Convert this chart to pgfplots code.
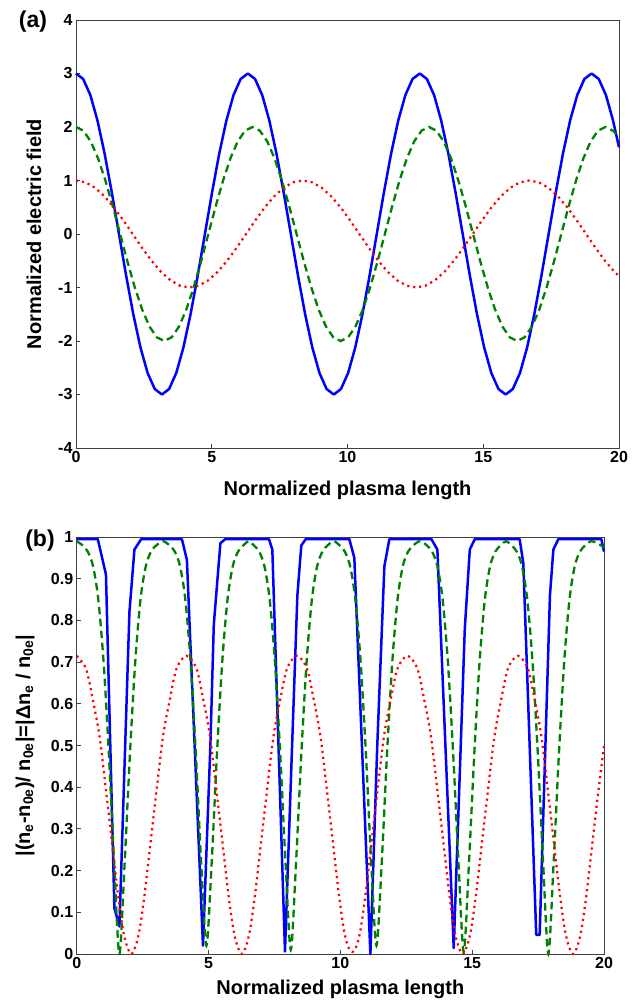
\documentclass[border=0pt]{standalone}
\usepackage{pgfplots}
\pgfplotsset{compat=1.18}
\usepackage{fontspec}
\setmainfont{Liberation Sans}
\definecolor{mblue}{RGB}{0,0,255}
\definecolor{mgreen}{RGB}{0,128,0}
\definecolor{mred}{RGB}{255,0,0}
\begin{document}
\begin{tikzpicture}[x=1pt,y=1pt]
\useasboundingbox (0,0) rectangle (637,1002);
\pgfplotsset{
  myax/.style={
    anchor=south west, scale only axis,
    xmin=0, xmax=20, xtick={0,5,10,15,20},
    tick align=inside, xtick pos=bottom, ytick pos=left,
    major tick length=4pt,
    axis line style={black!75, line width=0.8pt},
    every tick/.style={black!75, line width=0.8pt},
    tick label style={font=\bfseries\fontsize{16}{16}\selectfont},
    label style={font=\bfseries\fontsize{20}{22}\selectfont},
    /pgf/number format/assume math mode=true,
    clip=false,
  },
  bl/.style={mblue, line width=2.5pt, line join=round},
  gr/.style={mgreen, line width=2.3pt, dash pattern=on 7.5pt off 4.5pt},
  rd/.style={mred, line width=2.2pt, dash pattern=on 2.2pt off 3.8pt},
}
% ---------------- (a) ----------------
\begin{axis}[myax,
  at={(76pt,554pt)}, width=543pt, height=428pt,
  ymin=-4, ymax=4, ytick={-4,-3,-2,-1,0,1,2,3,4},
  xlabel={Normalized plasma length},
  ylabel={Normalized electric field},
  x label style={at={(axis description cs:0.5,-0.098)}, anchor=center},
  y label style={at={(axis description cs:-0.0773,0.5)}, anchor=center, rotate=0},
]
\addplot[bl] coordinates {
(0,3) (0.264,2.898) (0.528,2.598) (0.791,2.121) (1.055,1.5) (1.319,0.776) (1.583,0) (1.846,-0.776) (2.11,-1.5) (2.374,-2.121) (2.638,-2.598) (2.901,-2.898) (3.165,-3) (3.429,-2.898) (3.693,-2.598) (3.956,-2.121) (4.22,-1.5) (4.484,-0.776) (4.748,0) (5.011,0.776) (5.275,1.5) (5.539,2.121) (5.803,2.598) (6.066,2.898)
(6.33,3) (6.594,2.898) (6.858,2.598) (7.121,2.121) (7.385,1.5) (7.649,0.776) (7.913,0) (8.176,-0.776) (8.44,-1.5) (8.704,-2.121) (8.968,-2.598) (9.231,-2.898) (9.495,-3) (9.759,-2.898) (10.023,-2.598) (10.286,-2.121) (10.55,-1.5) (10.814,-0.776) (11.078,0) (11.341,0.776) (11.605,1.5) (11.869,2.121) (12.133,2.598) (12.396,2.898)
(12.66,3) (12.924,2.898) (13.188,2.598) (13.451,2.121) (13.715,1.5) (13.979,0.776) (14.243,0) (14.506,-0.776) (14.77,-1.5) (15.034,-2.121) (15.298,-2.598) (15.561,-2.898) (15.825,-3) (16.089,-2.898) (16.353,-2.598) (16.616,-2.121) (16.88,-1.5) (17.144,-0.776) (17.408,0) (17.671,0.776) (17.935,1.5) (18.199,2.121) (18.463,2.598) (18.726,2.898)
(18.99,3) (19.254,2.898) (19.518,2.598) (19.781,2.121) (20,1.62)
};
\addplot[gr] coordinates {
(0,2) (0.271,1.932) (0.542,1.732) (0.813,1.414) (1.083,1) (1.354,0.518) (1.625,0) (1.896,-0.518) (2.167,-1) (2.438,-1.414) (2.708,-1.732) (2.979,-1.932) (3.25,-2) (3.521,-1.932) (3.792,-1.732) (4.063,-1.414) (4.333,-1) (4.604,-0.518) (4.875,0) (5.146,0.518) (5.417,1) (5.688,1.414) (5.958,1.732) (6.229,1.932)
(6.5,2) (6.771,1.932) (7.042,1.732) (7.313,1.414) (7.583,1) (7.854,0.518) (8.125,0) (8.396,-0.518) (8.667,-1) (8.938,-1.414) (9.208,-1.732) (9.479,-1.932) (9.75,-2) (10.021,-1.932) (10.292,-1.732) (10.563,-1.414) (10.833,-1) (11.104,-0.518) (11.375,0) (11.646,0.518) (11.917,1) (12.188,1.414) (12.458,1.732) (12.729,1.932)
(13,2) (13.271,1.932) (13.542,1.732) (13.813,1.414) (14.083,1) (14.354,0.518) (14.625,0) (14.896,-0.518) (15.167,-1) (15.438,-1.414) (15.708,-1.732) (15.979,-1.932) (16.25,-2) (16.521,-1.932) (16.792,-1.732) (17.063,-1.414) (17.333,-1) (17.604,-0.518) (17.875,0) (18.146,0.518) (18.417,1) (18.688,1.414) (18.958,1.732) (19.229,1.932)
(19.5,2) (19.771,1.932) (20,1.82)
};
\addplot[rd] coordinates {
(0,1) (0.348,0.966) (0.696,0.866) (1.044,0.707) (1.392,0.5) (1.74,0.259) (2.088,0) (2.435,-0.259) (2.783,-0.5) (3.131,-0.707) (3.479,-0.866) (3.827,-0.966) (4.175,-1) (4.523,-0.966) (4.871,-0.866) (5.219,-0.707) (5.567,-0.5) (5.915,-0.259) (6.263,0) (6.61,0.259) (6.958,0.5) (7.306,0.707) (7.654,0.866) (8.002,0.966)
(8.35,1) (8.698,0.966) (9.046,0.866) (9.394,0.707) (9.742,0.5) (10.09,0.259) (10.438,0) (10.785,-0.259) (11.133,-0.5) (11.481,-0.707) (11.829,-0.866) (12.177,-0.966) (12.525,-1) (12.873,-0.966) (13.221,-0.866) (13.569,-0.707) (13.917,-0.5) (14.265,-0.259) (14.613,0) (14.96,0.259) (15.308,0.5) (15.656,0.707) (16.004,0.866) (16.352,0.966)
(16.7,1) (17.048,0.966) (17.396,0.866) (17.744,0.707) (18.092,0.5) (18.44,0.259) (18.788,0) (19.135,-0.259) (19.483,-0.5) (19.831,-0.707) (20,-0.784)
};
\end{axis}
% ---------------- (b) ----------------
\begin{axis}[myax,
  at={(76.7pt,48pt)}, width=527.3pt, height=417pt,
  ymin=0, ymax=1, ytick={0,0.1,0.2,0.3,0.4,0.5,0.6,0.7,0.8,0.9,1},
  yticklabels={0,0.1,0.2,0.3,0.4,0.5,0.6,0.7,0.8,0.9,1},
  xlabel={Normalized plasma length},
  ylabel={|(n\textsubscript{e}-n\textsubscript{0e})/ n\textsubscript{0e}|=|Δn\textsubscript{e} / n\textsubscript{0e}|},
  x label style={at={(axis description cs:0.5,-0.086)}, anchor=center},
  y label style={at={(axis description cs:-0.098,0.5)}, anchor=center, rotate=0},
]
\addplot[bl] coordinates {
(0,0.995) (0.80,0.995) (1.11,0.91) (1.43,0.11) (1.62,0.066) (2.0,0.82) (2.19,0.97) (2.45,0.995)
(3.99,0.995) (4.18,0.945) (4.79,0.02) (5.07,0.5) (5.2,0.79) (5.45,0.985) (5.64,0.995)
(7.29,0.995) (7.42,0.97) (7.90,0.006) (8.17,0.5) (8.37,0.86) (8.52,0.98) (8.69,0.995)
(10.34,0.995) (10.53,0.95) (11.14,0) (11.40,0.5) (11.67,0.93) (11.86,0.995)
(13.45,0.995) (13.68,0.97) (14.30,0.014) (14.72,0.78) (14.91,0.97) (15.10,0.995)
(16.80,0.995) (16.94,0.937) (17.43,0.046) (17.56,0.046) (17.95,0.86) (18.08,0.97) (18.27,0.995)
(19.90,0.995) (20,0.965)
};
\addplot[gr, smooth] coordinates {
(0,0.99) (0.22,0.98) (0.42,0.965) (0.62,0.93) (0.82,0.85) (1.02,0.70) (1.22,0.48) (1.42,0.22) (1.62,0.0) (1.82,0.22) (2.02,0.48) (2.22,0.70) (2.42,0.85) (2.62,0.93) (2.82,0.965) (3.02,0.98) (3.27,0.99)
(3.52,0.98) (3.72,0.965) (3.92,0.93) (4.12,0.85) (4.32,0.70) (4.52,0.48) (4.72,0.22) (4.92,0.02) (5.12,0.22) (5.32,0.48) (5.52,0.70) (5.72,0.85) (5.92,0.93) (6.12,0.965) (6.32,0.98) (6.52,0.99)
(6.72,0.98) (6.92,0.965) (7.12,0.93) (7.32,0.85) (7.52,0.70) (7.72,0.48) (7.92,0.22) (8.12,0.01) (8.32,0.22) (8.52,0.48) (8.72,0.70) (8.92,0.85) (9.12,0.93) (9.32,0.965) (9.52,0.98) (9.745,0.99)
(9.97,0.98) (10.17,0.965) (10.37,0.93) (10.57,0.85) (10.77,0.70) (10.97,0.48) (11.17,0.22) (11.37,0.02) (11.57,0.22) (11.77,0.48) (11.97,0.70) (12.17,0.85) (12.37,0.93) (12.57,0.965) (12.77,0.98) (13.025,0.99)
(13.28,0.98) (13.48,0.965) (13.68,0.93) (13.88,0.85) (14.08,0.70) (14.28,0.48) (14.48,0.22) (14.68,0.005) (14.88,0.22) (15.08,0.48) (15.28,0.70) (15.48,0.85) (15.68,0.93) (15.88,0.965) (16.08,0.98) (16.285,0.99)
(16.49,0.98) (16.69,0.965) (16.89,0.93) (17.09,0.85) (17.29,0.70) (17.49,0.48) (17.69,0.22) (17.89,0.0) (18.09,0.22) (18.29,0.48) (18.49,0.70) (18.69,0.85) (18.89,0.93) (19.09,0.965) (19.29,0.98) (19.5,0.99) (19.75,0.985) (20,0.975)
};
\addplot[rd, smooth] coordinates {
(0,0.715) (0.35,0.685) (0.61,0.61) (0.87,0.52) (1.17,0.36) (1.37,0.25) (1.57,0.14) (1.75,0.06) (1.90,0.02) (2.07,0.0) (2.24,0.02) (2.39,0.06) (2.57,0.14) (2.77,0.25) (2.97,0.36) (3.27,0.52) (3.53,0.61) (3.79,0.685) (4.165,0.715)
(4.54,0.685) (4.80,0.61) (5.06,0.52) (5.36,0.36) (5.56,0.25) (5.76,0.14) (5.94,0.06) (6.09,0.02) (6.26,0.0) (6.43,0.02) (6.58,0.06) (6.76,0.14) (6.96,0.25) (7.16,0.36) (7.46,0.52) (7.72,0.61) (7.98,0.685) (8.355,0.715)
(8.73,0.685) (8.99,0.61) (9.25,0.52) (9.55,0.36) (9.75,0.25) (9.95,0.14) (10.13,0.06) (10.28,0.02) (10.45,0.005) (10.62,0.02) (10.77,0.06) (10.95,0.14) (11.15,0.25) (11.35,0.36) (11.65,0.52) (11.91,0.61) (12.17,0.685) (12.545,0.715)
(12.92,0.685) (13.18,0.61) (13.44,0.52) (13.74,0.36) (13.94,0.25) (14.14,0.14) (14.32,0.06) (14.47,0.02) (14.64,0.0) (14.81,0.02) (14.96,0.06) (15.14,0.14) (15.34,0.25) (15.54,0.36) (15.84,0.52) (16.10,0.61) (16.36,0.685) (16.735,0.715)
(17.11,0.685) (17.37,0.61) (17.63,0.52) (17.93,0.36) (18.13,0.25) (18.33,0.14) (18.51,0.06) (18.66,0.02) (18.83,0.0) (19.00,0.02) (19.15,0.06) (19.33,0.14) (19.53,0.25) (19.73,0.36) (20,0.50)
};
\end{axis}
\node[font=\bfseries\fontsize{23}{23}\selectfont] at (33,980) {(a)};
\node[font=\bfseries\fontsize{23}{23}\selectfont] at (40,461) {(b)};
\end{tikzpicture}
\end{document}
